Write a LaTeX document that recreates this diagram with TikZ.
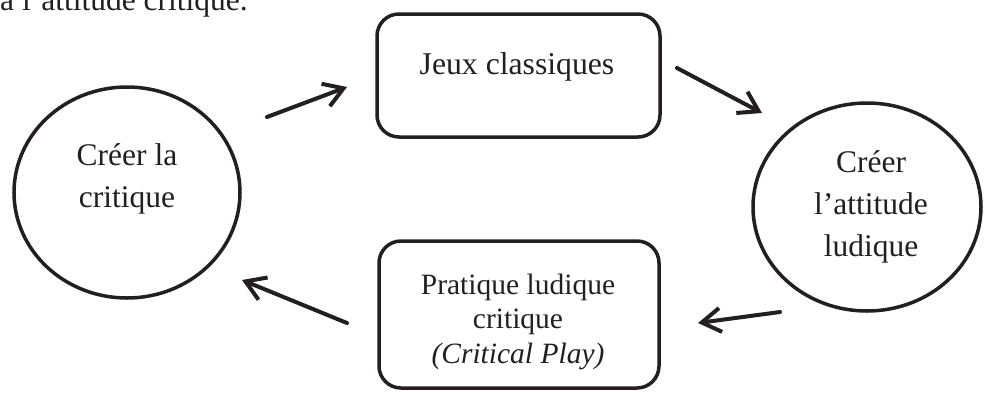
\documentclass[tikz,border=0pt]{standalone}
\usepackage{fontspec}
\setmainfont{Liberation Serif}
\usetikzlibrary{shapes.geometric,arrows.meta}
\definecolor{ink}{RGB}{35,31,32}
\begin{document}
\begin{tikzpicture}[x=1pt,y=-1pt,
  ring/.style={draw=ink, line width=3.5pt, ellipse, inner sep=0pt},
  card/.style={draw=ink, line width=3.5pt, rounded corners=22pt, inner sep=0pt},
  arr/.style={draw=ink, line width=4pt, line cap=round, -{Straight Barb[length=19pt,width=24pt]}},
  label/.style={text=ink, inner sep=0pt, align=center},
  bigtxt/.style={label, font=\fontsize{31.5}{42}\selectfont},
  boxtxt/.style={label, font=\fontsize{31.7}{40}\selectfont},
  smalltxt/.style={label, font=\fontsize{29.5}{34.5}\selectfont}
]
\useasboundingbox (0,0) rectangle (985,392);

% intro text cropped at top
\node[bigtxt, anchor=base west] (intro) at (0,10) {à l’attitude critique.};

% shapes
\node[ring, minimum width=226pt, minimum height=211pt] (crit) at (127,192.5) {};
\node[ring, minimum width=228pt, minimum height=208pt] (ludi) at (867,207) {};
\node[card, minimum width=283pt, minimum height=123pt] (jeux) at (518.5,75.5) {};
\node[card, minimum width=280pt, minimum height=147pt] (prat) at (519,314.5) {};

% texts
\node[bigtxt] (critT) at (127,179.2) {Créer la\\critique};
\node[bigtxt] (ludiT) at (871,207) {Créer\\l’attitude\\ludique};
\node[boxtxt, anchor=base] (jeuxT) at (517,74) {Jeux classiques};
\node[smalltxt] (pratT) at (518,321.5) {Pratique ludique\\critique\\\textit{(Critical Play)}};

% arrow ends
\coordinate (a1s) at (267,117);
\coordinate (a1e) at (347,87);
\coordinate (a2s) at (677,68);
\coordinate (a2e) at (762,113);
\coordinate (a3s) at (780,312);
\coordinate (a3e) at (698,323);
\coordinate (a4s) at (347,323);
\coordinate (a4e) at (242,280);

\draw[arr] (a1s) -- (a1e);
\draw[arr] (a2s) -- (a2e);
\draw[arr] (a3s) -- (a3e);
\draw[arr] (a4s) -- (a4e);
\end{tikzpicture}
\end{document}
